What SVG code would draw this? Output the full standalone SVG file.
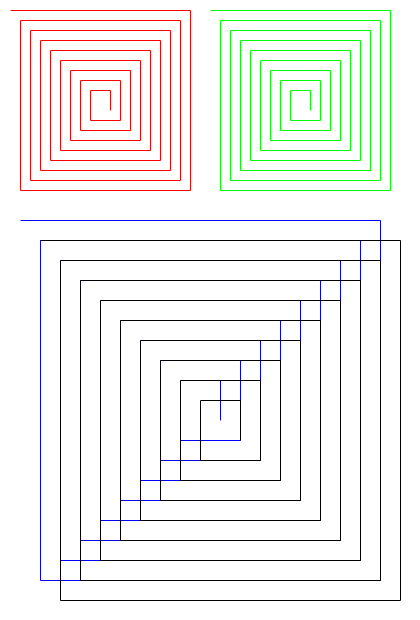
<svg xmlns="http://www.w3.org/2000/svg" width="420" height="620" viewBox="0 0 420 620">
<style>
path{fill:none;stroke-width:1}
#red path{stroke:#ff0000}
#green path{stroke:#00ff00}
#blue path{stroke:#0000ff}
#black path{stroke:#000000}
</style>
<rect width="420" height="620" fill="#ffffff"/>
<g transform="translate(0.5,0.5)">
<g id="red"><path d="M10,10 H190 V190 H20 V20 H180 V180 H30 V30 H170 V170 H40 V40 H160 V160 H50 V50 H150 V150 H60 V60 H140 V140 H70 V70 H130 V130 H80 V80 H120 V120 H90 V90 H110 V110"/></g>
<g id="green"><path d="M210,10 H390 V190 H220 V20 H380 V180 H230 V30 H370 V170 H240 V40 H360 V160 H250 V50 H350 V150 H260 V60 H340 V140 H270 V70 H330 V130 H280 V80 H320 V120 H290 V90 H310 V110"/></g>
<g id="blue"><path d="M20,220 H380 V580 H40 V240 H360 V560 H60 V260 H340 V540 H80 V280 H320 V520 H100 V300 H300 V500 H120 V320 H280 V480 H140 V340 H260 V460 H160 V360 H240 V440 H180 V380 H220 V420"/></g>
<g id="black"><path d="M40,240 H400 V600 H60 V260 H380 V580 H80 V280 H360 V560 H100 V300 H340 V540 H120 V320 H320 V520 H140 V340 H300 V500 H160 V360 H280 V480 H180 V380 H260 V460 H200 V400 H240 V440"/></g>
</g>
</svg>
